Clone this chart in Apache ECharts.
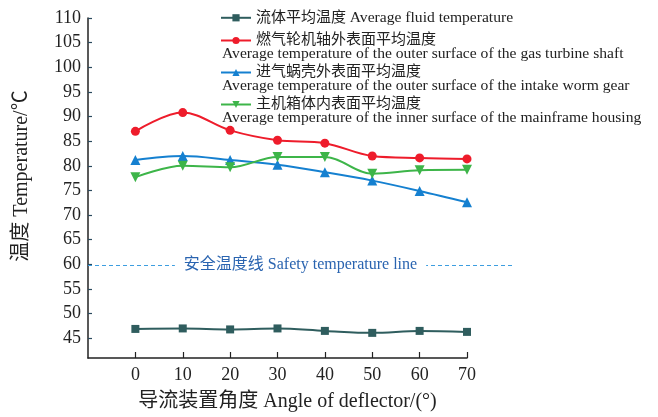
<!DOCTYPE html>
<html>
<head>
<meta charset="utf-8">
<script src="https://cdn.jsdelivr.net/npm/echarts@6/dist/echarts.min.js"></script>
<style>
html, body { margin: 0; padding: 0; background: #fff; }
#chart { width: 658px; height: 417px; }
</style>
</head>
<body>
<div id="chart"></div>
<script>
// Deflector angle (°) and the average temperatures (°C) at each angle
const angles = [0, 10, 20, 30, 40, 50, 60, 70];
const fluidTemp = [46.9, 47.0, 46.8, 47.0, 46.5, 46.1, 46.5, 46.3];
const shaftTemp = [87.0, 90.8, 87.2, 85.2, 84.6, 82.0, 81.6, 81.4];
const wormGearTemp = [81.2, 82.0, 81.2, 80.2, 78.7, 77.0, 74.9, 72.6];
const housingTemp = [77.7, 80.0, 79.7, 81.8, 81.8, 78.4, 79.1, 79.2];
const safetyTemp = 60;

const yTickValues = [45, 50, 55, 60, 65, 70, 75, 80, 85, 90, 95, 100, 105, 110];
const xTickValues = [0, 10, 20, 30, 40, 50, 60, 70];

const seriesNames = [
  '流体平均温度 Average fluid temperature',
  '燃气轮机轴外表面平均温度',
  '进气蜗壳外表面平均温度',
  '主机箱体内表面平均温度'
];
const englishNames = [
  'Average temperature of the outer surface of the gas turbine shaft',
  'Average temperature of the outer surface of the intake worm gear',
  'Average temperature of the inner surface of the mainframe housing'
];
const safetyLabel = '安全温度线 Safety temperature line';
const xName = '导流装置角度 Angle of deflector/(°)';
const yName = '温度 Temperature/℃';

const FONT = "'Liberation Serif', 'Noto Sans CJK SC', serif";
const colors = ['#2f5d5e', '#ee1c2b', '#1580d0', '#3db549'];
const symbols = ['rect', 'circle', 'triangle', 'path://M0,0 L10,0 L5,9 Z'];
const symbolSizes = [8, 9, 10, 10];

const pair = (vals) => angles.map((a, i) => [a, vals[i]]);
const allValues = [fluidTemp, shaftTemp, wormGearTemp, housingTemp];

const chart = echarts.init(document.getElementById('chart'), null, { renderer: 'canvas' });

const dataSeries = allValues.map((vals, i) => ({
  name: seriesNames[i],
  type: 'line',
  xAxisIndex: 0,
  yAxisIndex: 0,
  data: pair(vals),
  smooth: 0.35,
  symbol: symbols[i],
  symbolSize: symbolSizes[i],
  color: colors[i],
  lineStyle: { width: 2, color: colors[i] },
  itemStyle: { color: colors[i] },
  z: 3
}));

// Dashed safety-temperature reference line, spanning beyond the plot area
const safetySeries = {
  name: 'safety',
  type: 'line',
  xAxisIndex: 1,
  yAxisIndex: 1,
  data: [],
  silent: true,
  markLine: {
    silent: true,
    symbol: 'none',
    lineStyle: { type: [4, 3], color: '#3d9ee0', width: 1 },
    label: {
      show: true,
      position: 'middle',
      formatter: safetyLabel,
      color: '#2a64b0',
      fontFamily: FONT,
      fontSize: 16,
      backgroundColor: '#fff',
      padding: [2, 9],
      distance: 0,
      verticalAlign: 'middle'
    },
    data: [{ yAxis: safetyTemp }]
  }
};

const legendTops = [10, 33, 65, 97];
const legends = seriesNames.map((n, i) => ({
  data: [n],
  left: 220,
  top: legendTops[i],
  padding: 0,
  itemWidth: 30,
  itemHeight: 9,
  itemGap: 4,
  selectedMode: false,
  formatter: (name) => {
    const sp = name.indexOf(' ');
    return sp < 0 ? '{cn|' + name + '}' : '{cn|' + name.slice(0, sp) + '} {en|' + name.slice(sp + 1) + '}';
  },
  textStyle: {
    fontFamily: FONT, fontSize: 15, color: '#222',
    rich: {
      cn: { fontFamily: FONT, fontSize: 15, color: '#222' },
      en: { fontFamily: FONT, fontSize: 15.6, color: '#222' }
    }
  }
}));

const englishTops = [55, 86.5, 118.5];
const graphics = englishNames.map((t, i) => ({
  type: 'text',
  left: 222,
  top: englishTops[i] - 8.5,
  silent: true,
  style: { text: t, fontFamily: FONT, fontSize: 15.6, fill: '#222' }
}));

chart.setOption({
  animation: false,
  backgroundColor: '#fff',
  grid: [
    { left: 88, right: 191, top: 18, bottom: 58 },
    { left: 88, right: 145, top: 18, bottom: 58 }
  ],
  legend: legends,
  graphic: graphics,
  xAxis: [
    {
      type: 'value',
      gridIndex: 0,
      min: -10,
      max: 70,
      interval: 10,
      splitLine: { show: false },
      axisLine: { onZero: false, lineStyle: { color: '#222', width: 1.5 } },
      axisTick: { inside: true, length: 6, customValues: xTickValues, lineStyle: { color: '#222', width: 1.2 } },
      axisLabel: { customValues: xTickValues, fontFamily: FONT, fontSize: 18, color: '#222', margin: 8 },
      name: xName,
      nameLocation: 'middle',
      nameGap: 34,
      nameTextStyle: { fontFamily: FONT, fontSize: 20, color: '#222', padding: [0, 0, 0, 20] }
    },
    { type: 'value', gridIndex: 1, min: 0, max: 1, show: false }
  ],
  yAxis: [
    {
      type: 'value',
      gridIndex: 0,
      min: 41,
      max: 110,
      splitLine: { show: false },
      axisLine: { onZero: false, lineStyle: { color: '#222', width: 1.5 } },
      axisTick: { inside: true, length: 4, customValues: yTickValues, lineStyle: { color: '#2a4a5e', width: 1.2 } },
      axisLabel: { customValues: yTickValues, fontFamily: FONT, fontSize: 18, color: '#222', margin: 7 },
      name: yName,
      nameLocation: 'middle',
      nameGap: 56,
      nameTextStyle: { fontFamily: FONT, fontSize: 20, color: '#222', padding: [0, 0, 0, 24] }
    },
    { type: 'value', gridIndex: 1, min: 41, max: 110, show: false }
  ],
  series: [...dataSeries, safetySeries]
});
</script>
</body>
</html>
